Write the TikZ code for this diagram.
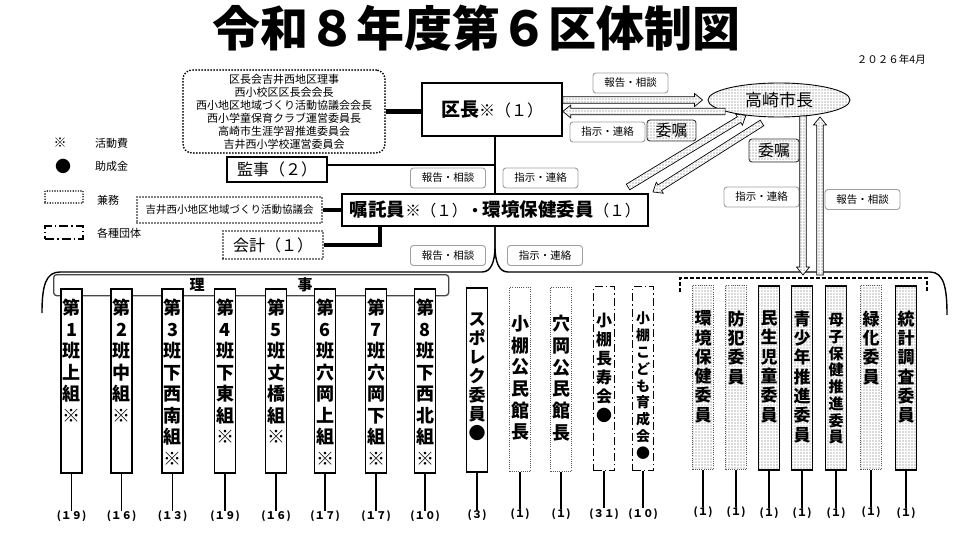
\documentclass[tikz,border=0pt]{standalone}
\usepackage{fontspec}
\setmainfont{Noto Sans CJK JP}
\usetikzlibrary{patterns,calc,shapes.geometric}
\pgfdeclarepatternformonly{sdots}{\pgfqpoint{-1pt}{-1pt}}{\pgfqpoint{1pt}{1pt}}{\pgfqpoint{3pt}{3pt}}{\pgfpathcircle{\pgfqpoint{0pt}{0pt}}{0.65pt}\pgfusepath{fill}}
\newcommand\colfA{\bfseries\fontsize{18}{21.5}\selectfont}
\newcommand\colfBa{\bfseries\fontsize{17}{19}\selectfont}
\newcommand\colfBb{\bfseries\fontsize{18}{21.7}\selectfont}
\newcommand\colfBc{\bfseries\fontsize{16}{19}\selectfont}
\newcommand\colfBd{\bfseries\fontsize{14}{16.8}\selectfont}
\newcommand\colfC{\bfseries\fontsize{17}{19.3}\selectfont}
\newcommand\colfCb{\bfseries\fontsize{15}{16.7}\selectfont}
\newcommand\mkcol[8]{%
  \node[colbox,#4] (#1) at (#2,#3) {};
  \node[coltext,font=#5] (#1t) at ([yshift=-#6pt]#1.north) {#7};
  \node[numlab] (#1n) at ([yshift=-37pt]#1.south) {#8};
  \draw[stem] (#1.south) -- (#1n.north);
}
\newcommand\harr[2]{%
  \coordinate (hb) at ($(#2)!8pt!(#1)$);
  \path[harrow] ($(#1)!3.3pt!90:(#2)$) -- ($(hb)!3.3pt!90:(#2)$) -- ($(hb)!6.5pt!90:(#2)$) -- (#2) -- ($(hb)!6.5pt!-90:(#2)$) -- ($(hb)!3.3pt!-90:(#2)$) -- ($(#1)!3.3pt!-90:(#2)$) -- cycle;
}
\begin{document}
\begin{tikzpicture}[x=1pt,y=-1pt,
  every node/.style={inner sep=0pt},
  dotfill/.style={postaction={pattern=sdots, pattern color=gray!75!black}},
  solidbox/.style={draw, line width=1.6pt, fill=white},
  dotborder/.style={draw=gray!70!black, line width=0.9pt, dash pattern=on 0.9pt off 1.3pt},
  bigdots/.style={draw, line width=2pt, line cap=round, dash pattern=on 0pt off 3pt},
  dashdotb/.style={draw, line width=1.3pt, dash pattern=on 8pt off 3pt on 1.5pt off 3pt},
  graylab/.style={draw=gray!75, rounded corners=3pt, line width=0.9pt, fill=white, minimum width=75pt, minimum height=20pt, font=\fontsize{10.5}{12}\selectfont},
  iskbox/.style={draw=gray!40!black, rounded corners=3pt, line width=0.9pt, fill=white, dotfill, font=\fontsize{16}{18}\selectfont},
  colbox/.style={minimum width=21pt, minimum height=184pt, anchor=north, fill=white},
  coltext/.style={align=center, anchor=north},
  numlab/.style={anchor=north, font=\bfseries\fontsize{10.5}{12}\selectfont},
  stem/.style={line width=1.2pt},
  harrow/.style={draw, line width=0.7pt, fill=white, dotfill},
  conn/.style={line width=1.2pt},
  legtxt/.style={anchor=west, font=\fontsize{11}{13}\selectfont}
]
\useasboundingbox[fill=white] (0,0) rectangle (960,540);

% title and date
\node[font=\bfseries\fontsize{48}{50}\selectfont] (title) at (476,28) {令和８年度第６区体制図};
\node[anchor=east, font=\fontsize{10.5}{12}\selectfont] (date) at (926,59) {２０２６年4月};

% legend
\node[font=\fontsize{13}{14}\selectfont] (lg1) at (60,143) {※};
\node[legtxt] (lg1t) at (95,143) {活動費};
\node[font=\fontsize{16}{16}\selectfont] (lg2) at (63,166) {●};
\node[legtxt] (lg2t) at (95,166) {助成金};
\node[draw, line width=1.6pt, line cap=round, dash pattern=on 0pt off 2.6pt, minimum width=38pt, minimum height=12pt] (lg3) at (64,197) {};
\node[legtxt] (lg3t) at (97,200) {兼務};
\node[dashdotb, dash pattern=on 9pt off 3pt on 1.5pt off 3pt, minimum width=38pt, minimum height=13pt] (lg4) at (64,232.5) {};
\node[legtxt] (lg4t) at (97,233) {各種団体};

% top boxes
\node[bigdots, rounded corners=9pt, minimum width=202pt, minimum height=83pt, align=center, font=\fontsize{11}{13}\selectfont] (kenbox) at (284,111.5)
  {区長会吉井西地区理事\\西小校区区長会会長\\西小地区地域づくり活動協議会会長\\西小学童保育クラブ運営委員長\\高崎市生涯学習推進委員会\\吉井西小学校運営委員会};
\node[solidbox, minimum width=140pt, minimum height=53pt] (kucho) at (492,109.5)
  {{\bfseries\fontsize{19}{22}\selectfont 区長}{\fontsize{16}{20}\selectfont ※（１）}};
\node[solidbox, minimum width=100pt, minimum height=25pt, font=\fontsize{16}{18}\selectfont] (kanji) at (277,169.5) {監事（２）};
\node[solidbox, minimum width=306pt, minimum height=32pt] (shoku) at (495,210)
  {{\bfseries\fontsize{18.5}{22}\selectfont 嘱託員}{\fontsize{15.5}{20}\selectfont ※（１）}{\bfseries\fontsize{15.5}{20}\selectfont ・}{\bfseries\fontsize{18.5}{22}\selectfont 環境保健委員}{\fontsize{15.5}{20}\selectfont （１）}};
\node[bigdots, line width=1.8pt, minimum width=185pt, minimum height=26pt, font=\fontsize{10.5}{12}\selectfont] (kyogi) at (229.5,210) {吉井西小地区地域づくり活動協議会};
\node[bigdots, line width=1.8pt, minimum width=100pt, minimum height=28pt, font=\fontsize{16}{18}\selectfont] (kaikei) at (273,245) {会計（１）};

% connectors of the top part
\draw[line width=5pt] (kenbox.east |- 0,112) -- (kucho.west |- 0,112);
\draw[line width=3.5pt] (kyogi.east) -- (kyogi.east -| shoku.west);
\draw[line width=3.5pt] (kaikei.east) -| ([xshift=-115pt]shoku.south);
\draw[conn] (kucho.south -| shoku.north) -- (shoku.north);
\draw[conn] ([yshift=4.5pt]kanji.east) -- ([yshift=4.5pt]kanji.east -| shoku.north);

% gray labels
\node[graylab] (g1) at (448,178) {報告・相談};
\node[graylab] (g2) at (540.5,178) {指示・連絡};
\node[graylab] (g3) at (448,255.5) {報告・相談};
\node[graylab] (g4) at (545,255.5) {指示・連絡};
\node[graylab] (g5) at (630.5,83) {報告・相談};
\node[graylab] (g6) at (607.5,132) {指示・連絡};
\node[graylab] (g7) at (761.5,197) {指示・連絡};
\node[graylab] (g8) at (862.5,199.5) {報告・相談};
\node[iskbox, minimum width=49pt, minimum height=21pt] (i1) at (671.5,130.5) {委嘱};
\node[iskbox, minimum width=50pt, minimum height=23pt] (i2) at (774,150.5) {委嘱};

% city mayor
\node[ellipse, draw, line width=0.9pt, fill=white, dotfill, minimum width=142pt, minimum height=34pt, font=\fontsize{17}{19}\selectfont] (shiho) at (779,100) {高崎市長};

% hollow arrows
\coordinate (a1s) at ([yshift=9.5pt]kucho.east);
\coordinate (a1e) at ([xshift=-5pt]shiho.west);
\coordinate (a2s) at (shiho.192);
\coordinate (a2e) at (a2s -| kucho.east);
\coordinate (a3s) at (628,187);
\coordinate (a3e) at (shiho.205);
\coordinate (a4s) at (762,123);
\coordinate (a4e) at (653,192);
\coordinate (a5s) at (803,116);
\coordinate (a5e) at (803,275);
\coordinate (a6s) at (820,275);
\coordinate (a6e) at (820,117);
\harr{a1s}{a1e}
\harr{a2s}{a2e}
\harr{a3s}{a3e}
\harr{a4s}{a4e}

% big brace
\coordinate (bl) at (42,313);
\coordinate (br) at (947,315);
\draw[line width=1.4pt] (bl) .. controls (42,285) and (46,272) .. (60,272) -- (482,272) .. controls (491,272) and (495,262) .. (495,246) -- (shoku.south);
\draw[line width=1.4pt] (shoku.south) -- (495,246) .. controls (495,262) and (499,272) .. (508,272) -- (930,272) .. controls (944,272) and (947,288) .. (br);
\draw[line width=1.2pt, dash pattern=on 4pt off 2pt] (680,292) -- (680,278) -- (927,278) -- (927,292);
\harr{a5s}{a5e}
\harr{a6s}{a6e}

% riji frame
\node[draw=gray!55!black, rounded corners=3pt, line width=1.3pt, minimum width=395pt, minimum height=21pt, anchor=north west, font=\bfseries\fontsize{15}{16}\selectfont] (riji) at (53,274) {理\hspace{93pt}事};

% columns: group A
\mkcol{c1}{71.5}{288}{solidbox}{\colfA}{11}{第\\1\\班\\上\\組\\{\mdseries ※}}{(１９)}
\mkcol{c2}{121.5}{288}{solidbox}{\colfA}{11}{第\\2\\班\\中\\組\\{\mdseries ※}}{(１６)}
\mkcol{c3}{172.5}{288}{solidbox}{\colfA}{11}{第\\3\\班\\下\\西\\南\\組\\{\mdseries ※}}{(１３)}
\mkcol{c4}{225}{288}{solidbox}{\colfA}{11}{第\\4\\班\\下\\東\\組\\{\mdseries ※}}{(１９)}
\mkcol{c5}{276}{288}{solidbox}{\colfA}{11}{第\\5\\班\\丈\\橋\\組\\{\mdseries ※}}{(１６)}
\mkcol{c6}{325}{288}{solidbox}{\colfA}{11}{第\\6\\班\\穴\\岡\\上\\組\\{\mdseries ※}}{(１７)}
\mkcol{c7}{376}{288}{solidbox}{\colfA}{11}{第\\7\\班\\穴\\岡\\下\\組\\{\mdseries ※}}{(１７)}
\mkcol{c8}{425}{288}{solidbox}{\colfA}{11}{第\\8\\班\\下\\西\\北\\組\\{\mdseries ※}}{(１０)}
% group B
\mkcol{c9}{477}{287}{solidbox}{\colfBa}{25}{ス\\ポ\\レ\\ク\\委\\員\\●}{(３)}
\mkcol{c10}{520}{287}{dotborder}{\colfBb}{28}{小\\棚\\公\\民\\館\\長}{(１)}
\mkcol{c11}{561}{287}{dotborder}{\colfBb}{28}{穴\\岡\\公\\民\\館\\長}{(１)}
\mkcol{c12}{604}{286}{dashdotb}{\colfBc}{27}{小\\棚\\長\\寿\\会\\●}{(３１)}
\mkcol{c13}{643}{286}{dashdotb}{\colfBd}{26}{小\\棚\\こ\\ど\\も\\育\\成\\会\\●}{(１０)}
% group C
\mkcol{c14}{703}{285}{dotborder,dotfill}{\colfC}{25.5}{環\\境\\保\\健\\委\\員}{(１)}
\mkcol{c15}{736}{285}{dotborder,dotfill}{\colfC}{25.5}{防\\犯\\委\\員}{(１)}
\mkcol{c16}{769}{285}{solidbox,dotfill}{\colfC}{25.5}{民\\生\\児\\童\\委\\員}{(１)}
\mkcol{c17}{802}{285}{solidbox,dotfill}{\colfC}{25.5}{青\\少\\年\\推\\進\\委\\員}{(１)}
\mkcol{c18}{836}{285}{solidbox,dotfill}{\colfCb}{28.5}{母\\子\\保\\健\\推\\進\\委\\員}{(１)}
\mkcol{c19}{871}{285}{dotborder,dotfill}{\colfC}{25.5}{緑\\化\\委\\員}{(１)}
\mkcol{c20}{906}{285}{solidbox,dotfill}{\colfC}{25.5}{統\\計\\調\\査\\委\\員}{(１)}
\end{tikzpicture}
\end{document}
